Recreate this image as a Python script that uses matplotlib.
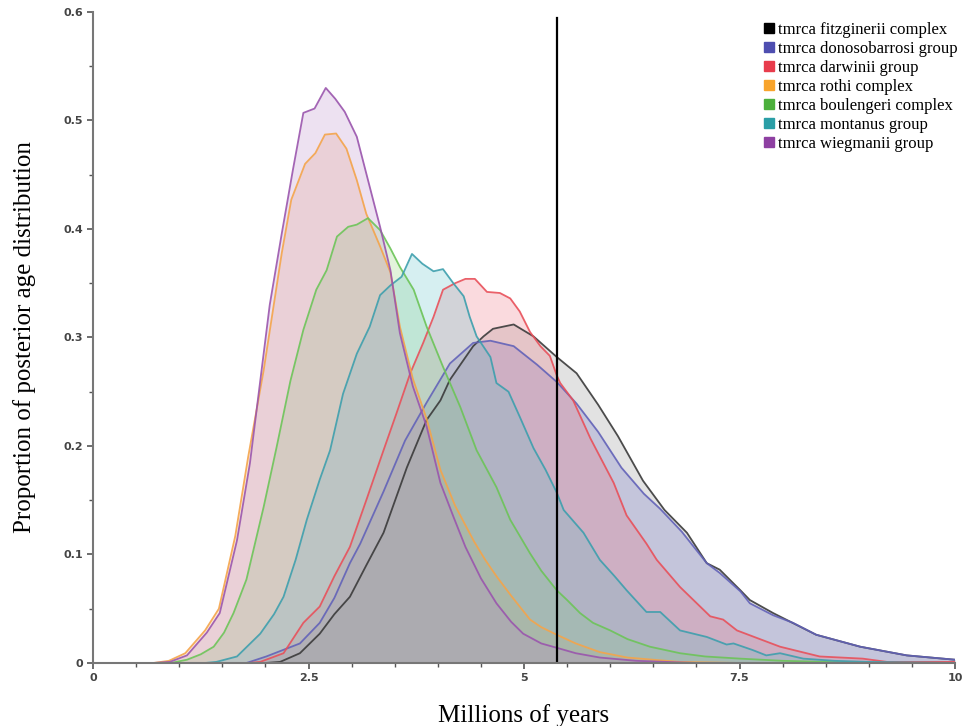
import matplotlib
matplotlib.use("Agg")
import matplotlib.pyplot as plt
from matplotlib.lines import Line2D
from matplotlib.ticker import MultipleLocator

# ---------------- data ----------------
series_names = [
    "tmrca fitzginerii complex",
    "tmrca donosobarrosi group",
    "tmrca darwinii group",
    "tmrca rothi complex",
    "tmrca boulengeri complex",
    "tmrca montanus group",
    "tmrca wiegmanii group",
]

fitz_x = [0, 2.0, 2.17, 2.40, 2.63, 2.80, 2.98, 3.17, 3.37, 3.64, 3.87, 4.03, 4.14, 4.41, 4.53, 4.64,
          4.88, 5.11, 5.38, 5.61, 5.86, 6.09, 6.38, 6.63, 6.89, 7.12, 7.27, 7.51, 7.62, 7.89, 8.39,
          8.90, 9.44, 10.0]
fitz_y = [0, 0, 0.001, 0.009, 0.027, 0.045, 0.061, 0.090, 0.120, 0.180, 0.224, 0.242, 0.261, 0.292,
          0.301, 0.308, 0.312, 0.301, 0.282, 0.267, 0.238, 0.209, 0.168, 0.141, 0.120, 0.092, 0.086,
          0.067, 0.058, 0.046, 0.026, 0.015, 0.007, 0.003]

dono_x = [0, 1.7, 1.78, 2.01, 2.40, 2.63, 2.80, 2.98, 3.10, 3.37, 3.62, 3.87, 4.14, 4.41, 4.61, 4.88,
          5.15, 5.38, 5.61, 5.86, 6.13, 6.39, 6.58, 6.83, 7.12, 7.27, 7.51, 7.62, 7.89, 8.12, 8.39,
          8.90, 9.44, 10.0]
dono_y = [0, 0, 0.0, 0.006, 0.018, 0.037, 0.060, 0.092, 0.110, 0.158, 0.205, 0.240, 0.276, 0.295,
          0.297, 0.292, 0.275, 0.259, 0.239, 0.213, 0.180, 0.156, 0.142, 0.121, 0.092, 0.083, 0.066,
          0.055, 0.044, 0.037, 0.026, 0.015, 0.007, 0.003]

darw_x = [0, 1.8, 1.94, 2.21, 2.44, 2.63, 2.80, 2.98, 3.17, 3.37, 3.52, 3.68, 3.83, 3.95, 4.06, 4.20,
          4.32, 4.43, 4.57, 4.72, 4.84, 4.95, 5.07, 5.19, 5.30, 5.38, 5.42, 5.57, 5.77, 6.04, 6.19,
          6.42, 6.54, 6.81, 7.16, 7.31, 7.47, 7.97, 8.43, 8.93, 9.21, 10.0]
darw_y = [0, 0, 0.001, 0.009, 0.037, 0.052, 0.080, 0.107, 0.150, 0.196, 0.230, 0.267, 0.295, 0.319,
          0.344, 0.350, 0.354, 0.354, 0.342, 0.341, 0.336, 0.324, 0.305, 0.292, 0.283, 0.265, 0.258,
          0.242, 0.207, 0.166, 0.136, 0.110, 0.095, 0.070, 0.043, 0.040, 0.030, 0.015, 0.006, 0.004,
          0.001, 0.001]

roth_x = [0, 0.7, 0.88, 1.07, 1.30, 1.46, 1.65, 1.80, 1.98, 2.19, 2.30, 2.46, 2.58, 2.69, 2.82, 2.94,
          3.06, 3.17, 3.33, 3.45, 3.56, 3.71, 3.87, 4.03, 4.20, 4.42, 4.55, 4.68, 4.85, 5.07, 5.20,
          5.38, 5.60, 5.88, 6.20, 6.80, 7.50, 10.0]
roth_y = [0, 0, 0.002, 0.009, 0.030, 0.050, 0.117, 0.190, 0.270, 0.378, 0.427, 0.460, 0.470, 0.487,
          0.488, 0.474, 0.445, 0.414, 0.384, 0.360, 0.310, 0.262, 0.225, 0.178, 0.145, 0.112, 0.095,
          0.080, 0.062, 0.040, 0.033, 0.026, 0.018, 0.010, 0.005, 0.001, 0, 0]

boul_x = [0, 0.9, 1.09, 1.25, 1.40, 1.52, 1.63, 1.78, 1.98, 2.13, 2.29, 2.44, 2.59, 2.71, 2.83, 2.96,
          3.06, 3.19, 3.33, 3.45, 3.56, 3.72, 3.87, 4.06, 4.26, 4.45, 4.68, 4.84, 5.07, 5.20, 5.38,
          5.50, 5.65, 5.80, 6.00, 6.20, 6.46, 6.81, 7.10, 7.51, 8.00, 8.50, 9.00, 10.0]
boul_y = [0, 0, 0.003, 0.008, 0.015, 0.028, 0.046, 0.077, 0.144, 0.199, 0.260, 0.307, 0.344, 0.362,
          0.393, 0.402, 0.404, 0.410, 0.399, 0.382, 0.365, 0.344, 0.310, 0.273, 0.236, 0.196, 0.162,
          0.132, 0.101, 0.085, 0.067, 0.058, 0.046, 0.037, 0.030, 0.022, 0.015, 0.009, 0.006, 0.004,
          0.002, 0.001, 0, 0]

mont_x = [0, 1.3, 1.43, 1.67, 1.94, 2.10, 2.21, 2.35, 2.48, 2.63, 2.75, 2.90, 3.06, 3.21, 3.33, 3.45,
          3.58, 3.70, 3.82, 3.95, 4.06, 4.18, 4.30, 4.37, 4.45, 4.61, 4.68, 4.82, 4.95, 5.11, 5.25,
          5.38, 5.46, 5.69, 5.88, 6.05, 6.19, 6.42, 6.58, 6.81, 7.12, 7.35, 7.43, 7.65, 7.81, 7.97,
          8.24, 8.60, 9.00, 10.0]
mont_y = [0, 0, 0.001, 0.006, 0.027, 0.045, 0.061, 0.095, 0.132, 0.169, 0.196, 0.248, 0.285, 0.310,
          0.339, 0.348, 0.356, 0.377, 0.368, 0.361, 0.363, 0.350, 0.338, 0.319, 0.301, 0.282, 0.258,
          0.250, 0.227, 0.198, 0.178, 0.157, 0.141, 0.120, 0.095, 0.080, 0.067, 0.047, 0.047, 0.030,
          0.024, 0.017, 0.018, 0.012, 0.007, 0.009, 0.004, 0.002, 0.001, 0]

wieg_x = [0, 0.7, 0.89, 1.09, 1.32, 1.47, 1.67, 1.82, 1.94, 2.05, 2.19, 2.32, 2.44, 2.57, 2.70, 2.81,
          2.92, 3.06, 3.19, 3.33, 3.45, 3.56, 3.71, 3.87, 4.03, 4.18, 4.32, 4.50, 4.68, 4.85, 4.99,
          5.20, 5.38, 5.60, 5.88, 6.30, 7.00, 10.0]
wieg_y = [0, 0, 0.001, 0.007, 0.028, 0.046, 0.113, 0.184, 0.260, 0.330, 0.396, 0.455, 0.507, 0.511,
          0.530, 0.520, 0.508, 0.485, 0.445, 0.402, 0.362, 0.304, 0.255, 0.218, 0.166, 0.135, 0.107,
          0.078, 0.055, 0.038, 0.027, 0.018, 0.014, 0.009, 0.005, 0.002, 0, 0]

vline_x = 5.38
x_ticks = [0, 2.5, 5, 7.5, 10]
x_tick_labels = ["0", "2.5", "5", "7.5", "10"]
y_ticks = [0, 0.1, 0.2, 0.3, 0.4, 0.5, 0.6]
y_tick_labels = ["0", "0.1", "0.2", "0.3", "0.4", "0.5", "0.6"]

# ---------------- style ----------------
line_colors = ["#3a3a3a", "#6262b8", "#e8505a", "#f4a44a", "#6cc458", "#3d9fad", "#9a55ad"]
fill_colors = ["#8c8c8c", "#6b70c8", "#ee6f7e", "#f2a878", "#8fd070", "#5cc0c8", "#b888c8"]
legend_colors = ["#000000", "#4e4eb0", "#e83c4c", "#f8a42c", "#4cb03c", "#2a9ea6", "#8e40a2"]

xs = [fitz_x, dono_x, darw_x, roth_x, boul_x, mont_x, wieg_x]
ys = [fitz_y, dono_y, darw_y, roth_y, boul_y, mont_y, wieg_y]

fig = plt.figure(figsize=(9.64, 7.26), dpi=100)
ax = fig.add_axes([0.0965, 0.0868, 0.8942, 0.8967])

for x, y, lc, fc in zip(xs, ys, line_colors, fill_colors):
    ax.fill_between(x, y, 0, color=fc, alpha=0.25, linewidth=0)
for x, y, lc in zip(xs, ys, line_colors):
    ax.plot(x, y, color=lc, lw=1.3, alpha=0.9)

ax.axvline(vline_x, ymin=0, ymax=0.99, color="black", lw=1.6)

ax.set_xlim(0, 10)
ax.set_ylim(0, 0.6)
ax.set_xticks(x_ticks)
ax.set_xticklabels(x_tick_labels)
ax.set_yticks(y_ticks)
ax.set_yticklabels(y_tick_labels)
ax.xaxis.set_minor_locator(MultipleLocator(0.5))
ax.yaxis.set_minor_locator(MultipleLocator(0.05))

for s in ["top", "right"]:
    ax.spines[s].set_visible(False)
for s in ["left", "bottom"]:
    ax.spines[s].set_color("#777777")
    ax.spines[s].set_linewidth(1.5)

ax.tick_params(which="major", direction="out", length=4, width=1.2, color="#555555",
               labelsize=8, labelcolor="#444444", pad=3)
ax.tick_params(which="minor", direction="out", length=3, width=1.0, color="#555555")
for lab in ax.get_xticklabels() + ax.get_yticklabels():
    lab.set_fontweight("bold")

serif = ["Liberation Serif", "DejaVu Serif"]
ax.set_xlabel("Millions of years", fontsize=18, family=serif, labelpad=15)
ax.set_ylabel("Proportion of posterior age distribution", fontsize=18, family=serif, labelpad=20)

handles = [Line2D([0], [0], marker="s", linestyle="none", markersize=7,
                  markerfacecolor=c, markeredgecolor=c) for c in legend_colors]
fig.legend(handles, series_names, loc="upper right", bbox_to_anchor=(1.004, 0.984),
           frameon=False, prop={"family": serif, "size": 12}, handletextpad=0.05,
           labelspacing=0.18, handlelength=1.0, borderaxespad=0.2)

fig.savefig("out.png", dpi=100)
